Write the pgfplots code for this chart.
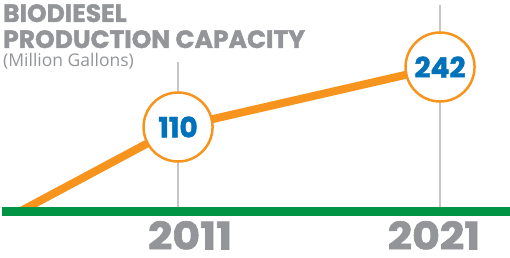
\documentclass[border=0pt]{standalone}
\usepackage{pgfplots}
\pgfplotsset{compat=1.18}
\usepackage{fontspec}
\setmainfont{Open Sans}
\newfontfamily\heavy{Poppins}[BoldFeatures={FakeBold=1.6}]
\newfontfamily\heavyw{Poppins}[BoldFeatures={FakeBold=1.8,FakeStretch=1.12}]
\definecolor{borange}{HTML}{F7941D}
\definecolor{bgreen}{HTML}{009444}
\definecolor{bblue}{HTML}{0072BC}
\definecolor{tgray}{HTML}{939598}
\definecolor{lgray}{HTML}{C4C6C8}
\begin{document}
\begin{tikzpicture}
\useasboundingbox (0,0) rectangle (510pt,257pt);
\begin{axis}[at={(2pt,46pt)}, anchor=south west, scale only axis,
  width=508pt, height=211pt,
  xmin=2004.28, xmax=2023.67, ymin=0, ymax=211, clip=false,
  axis line style={draw=none}, ytick=\empty,
  xtick={2011.46,2020.77}, xticklabels={2011,2021}, major tick length=0pt,
  xticklabel style={font=\heavyw\bfseries\fontsize{38}{38}\selectfont, text=tgray, anchor=base, yshift=-38.5pt, inner sep=0pt}]
\addplot[ycomb, color=lgray, line width=2pt, mark=none] coordinates {(2011,149) (2021,206)};
\addplot[borange, line width=8pt, mark=none, line join=round] coordinates {(2005,0) (2011,84) (2021,144)};
\addplot[bgreen, line width=9pt, mark=none] coordinates {(2004.28,0) (2023.67,0)};
\addplot[only marks, mark=*, mark size=34.5pt, mark options={draw=borange, fill=white, line width=2.5pt},
  point meta=explicit symbolic, nodes near coords,
  nodes near coords style={anchor=center, font=\heavy\bfseries\fontsize{28}{28}\selectfont, text=bblue}]
  coordinates {(2011,84) [110] (2021,144) [242]};
\end{axis}
\node[anchor=base west, inner sep=0pt, text=tgray, font=\heavy\bfseries\fontsize{25}{25}\selectfont] at (3pt,235pt) {BIODIESEL};
\node[anchor=base west, inner sep=0pt, text=tgray, font=\heavy\bfseries\fontsize{25}{25}\selectfont] at (3pt,209pt) {PRODUCTION CAPACITY};
\node[anchor=base west, inner sep=0pt, text=tgray, font=\fontsize{17.5}{17.5}\selectfont] at (3pt,190pt) {(Million Gallons)};
\end{tikzpicture}
\end{document}
